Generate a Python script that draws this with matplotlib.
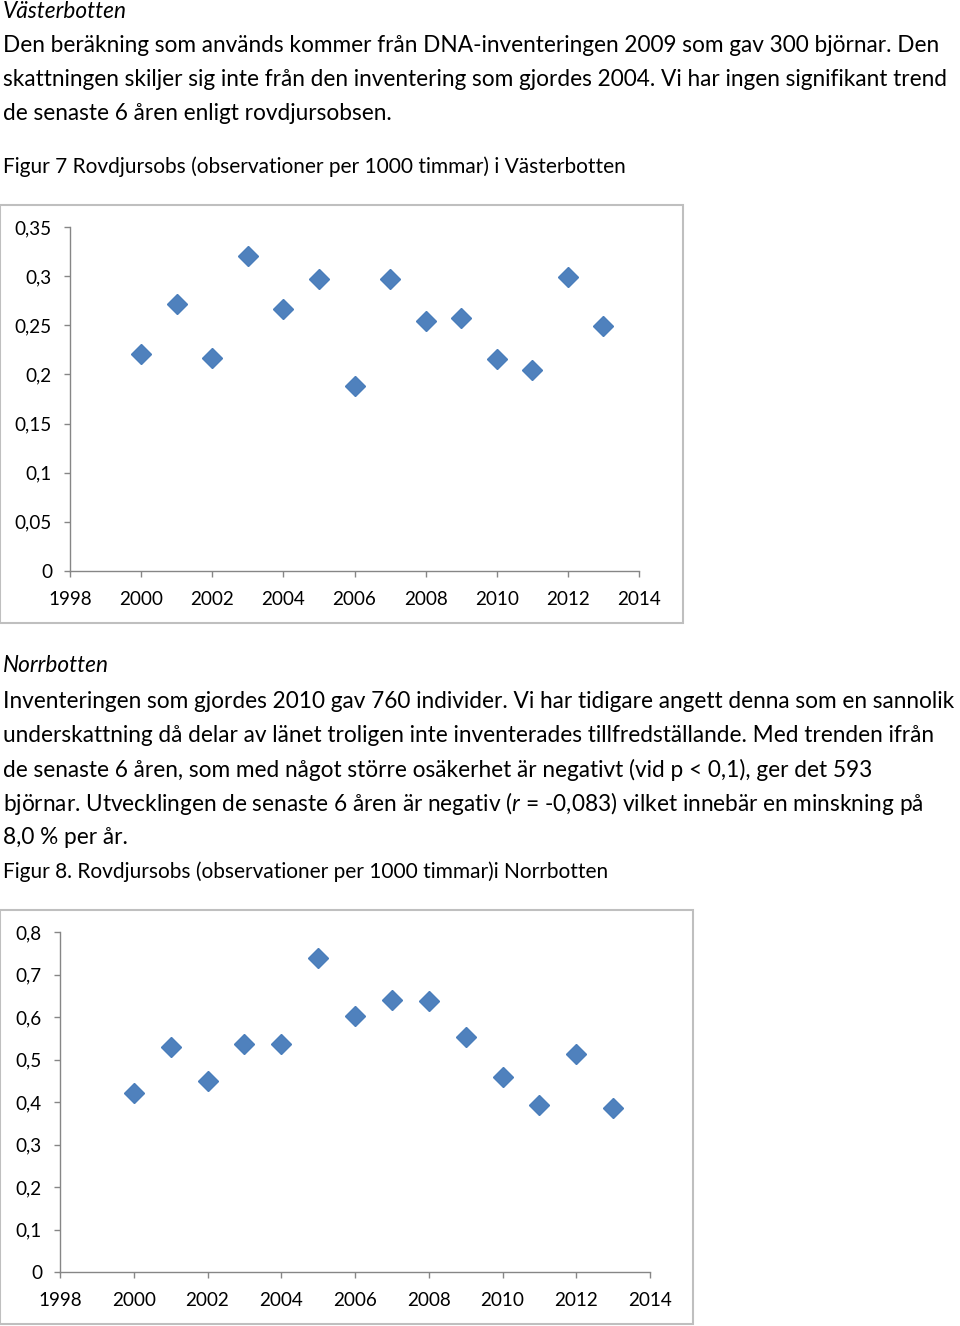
import matplotlib.pyplot as plt
from matplotlib.patches import Rectangle

# data
years = list(range(2000, 2014))
vasterbotten = [0.221, 0.272, 0.217, 0.320, 0.267, 0.297, 0.188,
                0.297, 0.254, 0.257, 0.216, 0.204, 0.299, 0.249]
norrbotten = [0.422, 0.530, 0.450, 0.537, 0.536, 0.738, 0.602,
              0.640, 0.638, 0.552, 0.459, 0.393, 0.513, 0.386]

x_ticks = list(range(1998, 2015, 2))
y_ticks_vb = [0, 0.05, 0.1, 0.15, 0.2, 0.25, 0.3, 0.35]
y_ticks_nb = [0, 0.1, 0.2, 0.3, 0.4, 0.5, 0.6, 0.7, 0.8]

W, H = 960, 1326
FONT = "Lato"
BODY = 16.3
CAPTION = 15.0
plt.rcParams["font.family"] = FONT
plt.rcParams["mathtext.fontset"] = "custom"
plt.rcParams["mathtext.it"] = FONT + ":italic"
plt.rcParams["mathtext.rm"] = FONT

fig = plt.figure(figsize=(W / 100, H / 100), dpi=100)


def put(text, y, size=BODY, style="normal"):
    # y is the vertical centre of the line in pixels from the top
    fig.text(3 / W, 1 - y / H, text, fontsize=size, style=style,
             ha="left", va="center", color="black")


put("Västerbotten", 12, style="italic")
put("Den beräkning som används kommer från DNA-inventeringen 2009 som gav 300 björnar. Den", 45)
put("skattningen skiljer sig inte från den inventering som gjordes 2004. Vi har ingen signifikant trend", 79)
put("de senaste 6 åren enligt rovdjursobsen.", 113)
put("Figur 7 Rovdjursobs (observationer per 1000 timmar) i Västerbotten", 167, size=CAPTION)

put("Norrbotten", 666, style="italic")
put("Inventeringen som gjordes 2010 gav 760 individer. Vi har tidigare angett denna som en sannolik", 701)
put("underskattning då delar av länet troligen inte inventerades tillfredställande. Med trenden ifrån", 736)
put("de senaste 6 åren, som med något större osäkerhet är negativt (vid p < 0,1), ger det 593", 770)
put(r"björnar. Utvecklingen de senaste 6 åren är negativ ($\mathit{r}$ = -0,083) vilket innebär en minskning på", 804)
put("8,0 % per år.", 838)
put("Figur 8. Rovdjursobs (observationer per 1000 timmar)i Norrbotten", 872, size=CAPTION)


def fmt(v):
    return ("%g" % v).replace(".", ",")


def chart(frame, box, values, yticks):
    fx0, fy0, fx1, fy1 = frame
    fig.patches.append(Rectangle((fx0 / W, 1 - fy1 / H), (fx1 - fx0) / W, (fy1 - fy0) / H,
                                 transform=fig.transFigure, fill=False,
                                 edgecolor="#BFBFBF", linewidth=1.5))
    x0, y0, x1, y1 = box
    ax = fig.add_axes([x0 / W, 1 - y1 / H, (x1 - x0) / W, (y1 - y0) / H])
    ax.plot(years, values, linestyle="none", marker="D", markersize=10,
            color="#4F81BD", markeredgecolor="#4A7EBB", clip_on=False)
    ax.set_xlim(1998, 2014)
    ax.set_ylim(0, yticks[-1])
    ax.set_xticks(x_ticks)
    ax.set_yticks(yticks)
    ax.set_yticklabels([fmt(v) for v in yticks])
    for s in ["top", "right"]:
        ax.spines[s].set_visible(False)
    for s in ["left", "bottom"]:
        ax.spines[s].set_color("#868686")
        ax.spines[s].set_linewidth(1)
    ax.tick_params(axis="both", direction="out", length=4, width=1,
                   color="#868686", labelsize=13.6, labelcolor="black")
    ax.tick_params(axis="y", pad=9)
    ax.tick_params(axis="x", pad=10.5)
    ax.set_facecolor("none")


chart((0, 205, 683, 623), (70, 227, 639, 571), vasterbotten, y_ticks_vb)
chart((0, 910, 693, 1324), (60, 932, 650, 1272), norrbotten, y_ticks_nb)

fig.savefig("out.png", dpi=100)
